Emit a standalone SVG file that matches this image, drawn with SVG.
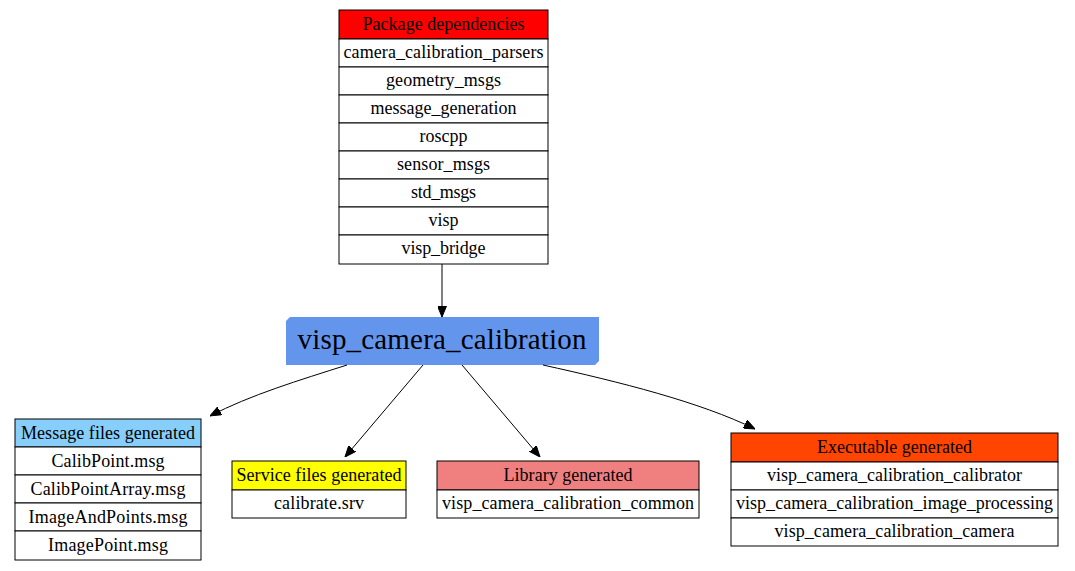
<svg xmlns="http://www.w3.org/2000/svg" width="1075" height="571" viewBox="0 0 1075 571">
<defs>
<marker id="ah" markerWidth="11" markerHeight="9" refX="11" refY="4.5" orient="auto" markerUnits="userSpaceOnUse">
<polygon points="0,0 11,4.5 0,9" fill="#000" stroke="#000" stroke-width="1"/>
</marker>
<style>
.c{fill:#fff;stroke:#000;stroke-width:1}
.t{font-family:"Liberation Serif","Times New Roman",serif;font-size:18px;text-anchor:middle;fill:#000}
.e{fill:none;stroke:#000;stroke-width:1;marker-end:url(#ah)}
</style>
</defs>
<rect width="1075" height="571" fill="#fff"/>
<g id="deps">
<rect class="c" x="339" y="10" width="209" height="29" style="fill:#ff0000"/>
<rect class="c" x="339" y="39" width="209" height="28"/>
<rect class="c" x="339" y="67" width="209" height="28"/>
<rect class="c" x="339" y="95" width="209" height="28"/>
<rect class="c" x="339" y="123" width="209" height="28"/>
<rect class="c" x="339" y="151" width="209" height="28"/>
<rect class="c" x="339" y="179" width="209" height="28"/>
<rect class="c" x="339" y="207" width="209" height="28"/>
<rect class="c" x="339" y="235" width="209" height="29"/>
<text class="t" x="443.5" y="30" textLength="162" lengthAdjust="spacing">Package dependencies</text>
<text class="t" x="443.5" y="58" textLength="200" lengthAdjust="spacing">camera_calibration_parsers</text>
<text class="t" x="443.5" y="86" textLength="115" lengthAdjust="spacing">geometry_msgs</text>
<text class="t" x="443.5" y="114" textLength="146" lengthAdjust="spacing">message_generation</text>
<text class="t" x="443.5" y="142" textLength="48" lengthAdjust="spacing">roscpp</text>
<text class="t" x="443.5" y="170" textLength="93" lengthAdjust="spacing">sensor_msgs</text>
<text class="t" x="443.5" y="198" textLength="65" lengthAdjust="spacing">std_msgs</text>
<text class="t" x="443.5" y="226" textLength="30" lengthAdjust="spacing">visp</text>
<text class="t" x="443.5" y="254" textLength="84" lengthAdjust="spacing">visp_bridge</text>
</g>
<g id="main">
<polygon points="290,317 599,317 599,361 595,365 286,365 286,321" fill="#6495ed"/>
<text x="442" y="349" textLength="289" lengthAdjust="spacing" style="font-family:'Liberation Serif','Times New Roman',serif;font-size:29px;text-anchor:middle">visp_camera_calibration</text>
</g>
<g id="msg">
<rect class="c" x="15" y="419" width="186" height="28" style="fill:#87cefa"/>
<rect class="c" x="15" y="447" width="186" height="28"/>
<rect class="c" x="15" y="475" width="186" height="28"/>
<rect class="c" x="15" y="503" width="186" height="28"/>
<rect class="c" x="15" y="531" width="186" height="29"/>
<text class="t" x="108" y="439" textLength="174" lengthAdjust="spacing">Message files generated</text>
<text class="t" x="108" y="467" textLength="113" lengthAdjust="spacing">CalibPoint.msg</text>
<text class="t" x="108" y="495" textLength="155" lengthAdjust="spacing">CalibPointArray.msg</text>
<text class="t" x="108" y="523" textLength="159" lengthAdjust="spacing">ImageAndPoints.msg</text>
<text class="t" x="108" y="551" textLength="120" lengthAdjust="spacing">ImagePoint.msg</text>
</g>
<g id="srv">
<rect class="c" x="232" y="461" width="174" height="29" style="fill:#ffff00"/>
<rect class="c" x="232" y="490" width="174" height="28"/>
<text class="t" x="319" y="481" textLength="165" lengthAdjust="spacing">Service files generated</text>
<text class="t" x="319" y="509" textLength="90" lengthAdjust="spacing">calibrate.srv</text>
</g>
<g id="lib">
<rect class="c" x="437" y="461" width="262" height="29" style="fill:#f08080"/>
<rect class="c" x="437" y="490" width="262" height="28"/>
<text class="t" x="568" y="481" textLength="129" lengthAdjust="spacing">Library generated</text>
<text class="t" x="568" y="509" textLength="252" lengthAdjust="spacing">visp_camera_calibration_common</text>
</g>
<g id="exe">
<rect class="c" x="731" y="433" width="327" height="29" style="fill:#ff4500"/>
<rect class="c" x="731" y="462" width="327" height="28"/>
<rect class="c" x="731" y="490" width="327" height="28"/>
<rect class="c" x="731" y="518" width="327" height="28"/>
<text class="t" x="894.5" y="453" textLength="155" lengthAdjust="spacing">Executable generated</text>
<text class="t" x="894.5" y="481" textLength="255" lengthAdjust="spacing">visp_camera_calibration_calibrator</text>
<text class="t" x="894.5" y="509" textLength="317" lengthAdjust="spacing">visp_camera_calibration_image_processing</text>
<text class="t" x="894.5" y="537" textLength="240" lengthAdjust="spacing">visp_camera_calibration_camera</text>
</g>
<g id="edges">
<path class="e" d="M442,264 L442,317"/>
<path class="e" d="M347,365 C300,380 250,395 210,416"/>
<path class="e" d="M423,365 L345,457"/>
<path class="e" d="M462,365 L540,457"/>
<path class="e" d="M543,365 C620,382 700,402 755,429"/>
</g>
</svg>
